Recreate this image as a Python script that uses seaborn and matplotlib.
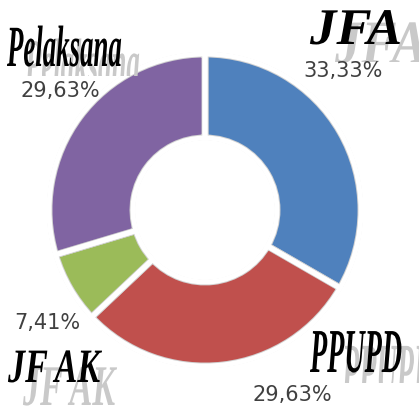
import matplotlib
matplotlib.use("Agg")
import matplotlib.pyplot as plt
import seaborn as sns
from matplotlib.patches import Wedge, Circle
from matplotlib.patheffects import AbstractPathEffect
from matplotlib.transforms import Affine2D, Bbox, TransformedBbox

# data
groups = ["JFA", "PPUPD", "JF AK", "Pelaksana"]
shares = [33.33, 29.63, 7.41, 29.63]
share_labels = ["33,33%", "29,63%", "7,41%", "29,63%"]
colors = ["#4F81BD", "#C0504D", "#9BBB59", "#8064A2"]

W, H = 419, 408


class Squeeze(AbstractPathEffect):
    """draw text glyphs scaled (condensed / stretched) from their baseline origin"""
    def __init__(self, sx=1.0, sy=1.0):
        super().__init__()
        self.sx, self.sy = sx, sy

    def draw_path(self, renderer, gc, tpath, affine, rgbFace=None):
        renderer.draw_path(gc, tpath, Affine2D().scale(self.sx, self.sy) + affine, rgbFace)


sns.set_theme(style="white")
fig = plt.figure(figsize=(W / 100, H / 100), dpi=100)
ax = fig.add_axes([0, 0, 1, 1])

cx, cy, R, ring = 205, H - 210, 156, 84
ax.pie(shares, colors=sns.color_palette(colors), startangle=90, counterclock=False,
       center=(cx, cy), radius=R,
       wedgeprops=dict(width=ring, edgecolor="#d2d2d2", linewidth=5.0))
# white gaps between the slices
ax.pie(shares, colors=["none"] * 4, startangle=90, counterclock=False,
       center=(cx, cy), radius=R,
       wedgeprops=dict(width=ring, edgecolor="white", linewidth=3.6))
# hide the loose grey rings outside / inside the donut
ax.add_patch(Wedge((cx, cy), R + 6, 0, 360, width=4, facecolor="white", edgecolor="none", zorder=1.5))
ax.add_patch(Circle((cx, cy), R - ring - 2, facecolor="white", edgecolor="none", zorder=1.5))
ax.set_xlim(0, W)
ax.set_ylim(0, H)
ax.set_aspect("equal")
ax.axis("off")

renderer = fig.canvas.get_renderer()


def squeezed(x, y, s, size, width, color, sy=1.0, clip_y=None, z=3):
    t = ax.text(x, H - y, s, fontsize=size, family="Liberation Serif",
                fontweight="bold", fontstyle="italic", color=color,
                ha="left", va="baseline", zorder=z)
    natural = t.get_window_extent(renderer).width
    t.set_path_effects([Squeeze(width / natural, sy)])
    if clip_y is not None:
        t.set_clip_box(TransformedBbox(Bbox.from_extents(0, H - clip_y, W, H), ax.transData))
        t.set_clip_on(True)
    return t


# name labels: left x, baseline y, size, width, shadow x, shadow baseline, shadow stretch, shadow clip
name_pos = {
    "JFA": (310, 44, 37, 92, 335, 63, 1.2, 62),
    "PPUPD": (310, 372, 45, 92, 342, 395, 1.2, 383),
    "JF AK": (8, 382, 34.5, 92, 23, 405, 1.2, None),
    "Pelaksana": (7, 66, 42, 115, 25, 85, 1.15, 76),
}
pct_pos = [(343, 77), (292, 401), (47, 329), (60, 97)]

for g in groups:
    x, y, size, width, shx, shy, stretch, clip = name_pos[g]
    squeezed(shx, shy, g, size, width, "#c9c9c9", sy=stretch, clip_y=clip, z=2)
    squeezed(x, y, g, size, width, "black", z=4)

for lab, (x, y) in zip(share_labels, pct_pos):
    ax.text(x, H - y, lab, fontsize=15, family="DejaVu Sans", color="#404040",
            ha="center", va="baseline", zorder=5)

fig.savefig("out.png", dpi=100)
